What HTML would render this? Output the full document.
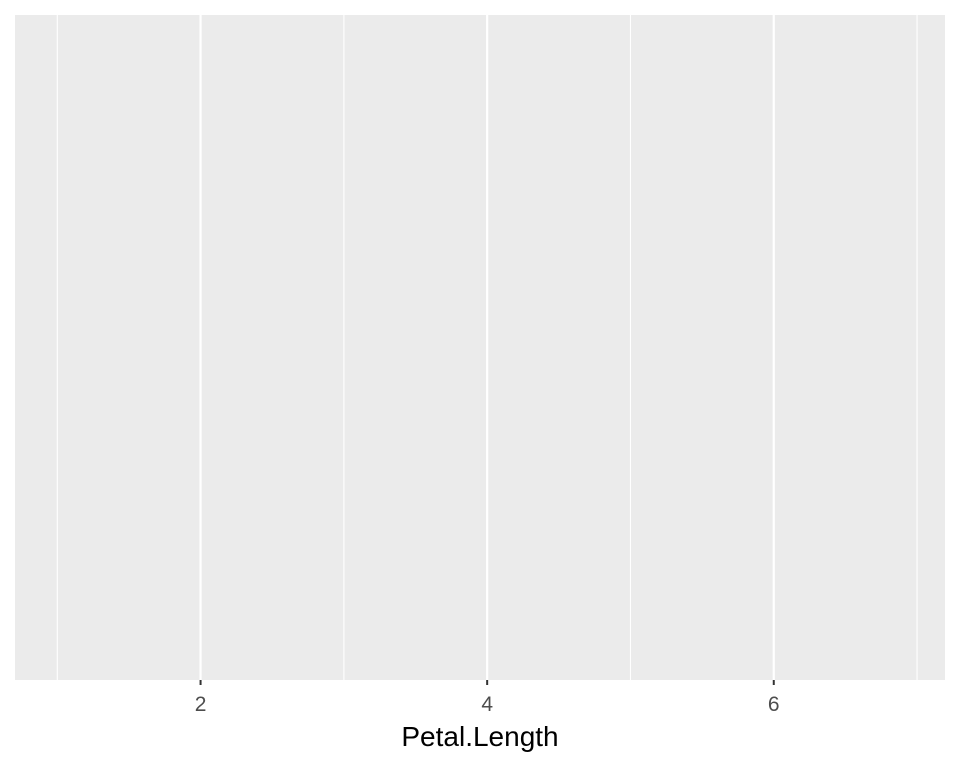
<!DOCTYPE html>
<html><head><meta charset="utf-8"><style>
html,body{margin:0;padding:0;background:#fff;}
svg{display:block;font-family:"Liberation Sans",sans-serif;}
</style></head><body>
<svg id="chart" width="960" height="768" xmlns="http://www.w3.org/2000/svg">
<rect x="15" y="15" width="930" height="665" fill="#ebebeb"/>
<g id="grid"></g>
<g id="axis"></g>
<text x="480" y="746" text-anchor="middle" font-size="28" fill="#000">Petal.Length</text>
</svg>
<script>
const majorTicks=[2,4,6];
const minorTicks=[1,3,5,7];
const tickLabels=["2","4","6"];
const xDomain=[0.705,7.195];
const L=15,R=945,T=15,B=680;
function x(v){return L+(v-xDomain[0])/(xDomain[1]-xDomain[0])*(R-L);}
const ns="http://www.w3.org/2000/svg";
const grid=document.getElementById('grid'),axis=document.getElementById('axis');
minorTicks.forEach(v=>{const l=document.createElementNS(ns,'line');


l.setAttribute('x1',x(v));l.setAttribute('x2',x(v));l.setAttribute('y1',T);l.setAttribute('y2',B);
l.setAttribute('stroke','#fff');l.setAttribute('stroke-width','1.1');grid.appendChild(l);});
majorTicks.forEach((v,i)=>{const l=document.createElementNS(ns,'line');


l.setAttribute('x1',x(v));l.setAttribute('x2',x(v));l.setAttribute('y1',T);l.setAttribute('y2',B);
l.setAttribute('stroke','#fff');l.setAttribute('stroke-width','2.2');grid.appendChild(l);
const t=document.createElementNS(ns,'line');


t.setAttribute('x1',x(v));t.setAttribute('x2',x(v));t.setAttribute('y1',B);t.setAttribute('y2',B+5);
t.setAttribute('stroke','#333');t.setAttribute('stroke-width','2');axis.appendChild(t);
const tx=document.createElementNS(ns,'text');


tx.setAttribute('x',x(v));tx.setAttribute('y',711);tx.setAttribute('text-anchor','middle');
tx.setAttribute('font-size','21');tx.setAttribute('fill','#4d4d4d');tx.textContent=tickLabels[i];axis.appendChild(tx);});
</script>
</body></html>
